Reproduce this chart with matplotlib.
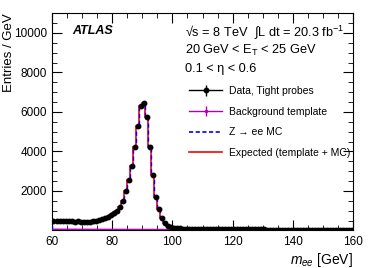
import numpy as np
import matplotlib
matplotlib.use("Agg")
import matplotlib.pyplot as plt
from matplotlib.ticker import MultipleLocator
from matplotlib.lines import Line2D

plt.rcParams['font.family'] = ['Liberation Sans', 'DejaVu Sans']
plt.rcParams['mathtext.fontset'] = 'custom'
plt.rcParams['mathtext.rm'] = 'Liberation Sans'
plt.rcParams['mathtext.it'] = 'Liberation Sans:italic'

# 1 GeV bins from 60 to 160
edges = np.arange(60, 161, 1)
data = [480, 470, 475, 465, 470, 460, 455, 450, 455, 440,
        430, 425, 440, 460, 490, 530, 580, 630, 700, 760,
        860, 1000, 1210, 1500, 2000, 2540, 3270, 4240, 5280, 6320,
        6440, 5730, 4240, 2790, 1690, 1080, 620, 370, 250, 180,
        140, 120, 105, 95, 88, 82, 78, 75, 72, 70,
        68, 66, 65, 64, 62, 61, 60, 59, 58, 57,
        56, 56, 55, 54, 54, 53, 52, 52, 51, 50,
        50, 49, 49, 48, 48, 47, 47, 46, 46, 45,
        45, 45, 44, 44, 43, 43, 43, 42, 42, 42,
        41, 41, 41, 40, 40, 40, 39, 39, 39, 38]
bkg = [62, 62, 61, 61, 60, 60, 60, 59, 59, 58,
       58, 58, 57, 57, 57, 56, 56, 56, 55, 55,
       55, 54, 54, 54, 53, 53, 53, 52, 52, 52,
       51, 51, 51, 50, 50, 50, 50, 49, 49, 49,
       48, 48, 48, 47, 47, 47, 46, 46, 46, 46,
       45, 45, 45, 44, 44, 44, 44, 43, 43, 43,
       42, 42, 42, 42, 41, 41, 41, 41, 40, 40,
       40, 40, 39, 39, 39, 39, 38, 38, 38, 38,
       37, 37, 37, 37, 36, 36, 36, 36, 35, 35,
       35, 35, 35, 34, 34, 34, 34, 33, 33, 33]
bkg_err = 15

data = np.array(data, dtype=float)
bkg = np.array(bkg, dtype=float)
mc = data - bkg            # Z->ee MC
expected = mc + bkg        # template + MC
centers = 0.5 * (edges[:-1] + edges[1:])

fig = plt.figure(figsize=(3.74, 2.68), dpi=100)
ax = fig.add_axes([0.139, 0.140, 0.805, 0.811])

ax.stairs(expected, edges, color='red', lw=1.2, zorder=2)
ax.stairs(mc, edges, color='blue', lw=1.0, ls=(0, (3, 2)), zorder=3)
ax.errorbar(centers, bkg, yerr=bkg_err, xerr=0.5, fmt='none', ecolor='#b000b0', elinewidth=0.8, zorder=4)
ax.plot(centers, bkg, color='#b000b0', lw=1.0, zorder=4)
ax.errorbar(centers, data, yerr=np.sqrt(data), fmt='o', color='black', ms=3.2,
            elinewidth=0.8, capsize=0, zorder=5)

# legend handles
h_data = ax.errorbar([], [], yerr=[], fmt='-o', color='black', ms=3.2, lw=1.0, elinewidth=1.0)
h_bkg = ax.errorbar([], [], yerr=[], fmt='-', color='#b000b0', marker='.', ms=3, lw=1.0, elinewidth=1.0)
h_mc = Line2D([], [], color='blue', lw=1.2, ls=(0, (2.5, 1.5)))
h_exp = Line2D([], [], color='red', lw=1.2)

ax.set_xlim(60, 160)
ax.set_ylim(0, 11000)
ax.xaxis.set_major_locator(MultipleLocator(20))
ax.xaxis.set_minor_locator(MultipleLocator(5))
ax.set_yticks([2000, 4000, 6000, 8000, 10000])
ax.yaxis.set_minor_locator(MultipleLocator(500))
ax.tick_params(which='both', direction='in', top=True, right=True, labelsize=8.5)
ax.tick_params(which='major', length=7)
ax.tick_params(which='minor', length=3.5)
ax.tick_params(axis='x', pad=4)

ax.set_xlabel(r'$m_{ee}$ [GeV]', loc='right', fontsize=10, labelpad=2)
fig.text(9 / 374, 1 - 13 / 268, 'Entries / GeV', rotation=90, fontsize=9.5, ha='center', va='top')

fig.text(72 / 374, 1 - 31 / 268, 'ATLAS', fontsize=9, weight='bold', style='italic', va='center')
fig.text(185 / 374, 1 - 32 / 268, '\u221as = 8 TeV  \u222bL dt = 20.3 fb$^{-1}$', fontsize=9.2, va='center')
fig.text(185 / 374, 1 - 50 / 268, r'20 GeV < E$_\mathrm{T}$ < 25 GeV', fontsize=9.2, va='center')
fig.text(185 / 374, 1 - 69 / 268, '0.1 < \u03b7 < 0.6', fontsize=9.2, va='center')

labels = ['Data, Tight probes', 'Background template', 'Z \u2192 ee MC', 'Expected (template + MC)']
fig.legend([h_data, h_bkg, h_mc, h_exp], labels, loc='upper left',
           bbox_to_anchor=(189 / 374, 1 - 86 / 268), frameon=False, fontsize=7.5,
           handlelength=3.2, handletextpad=0.65, labelspacing=1.02, borderpad=0, borderaxespad=0)

fig.savefig('out.png', dpi=100)
